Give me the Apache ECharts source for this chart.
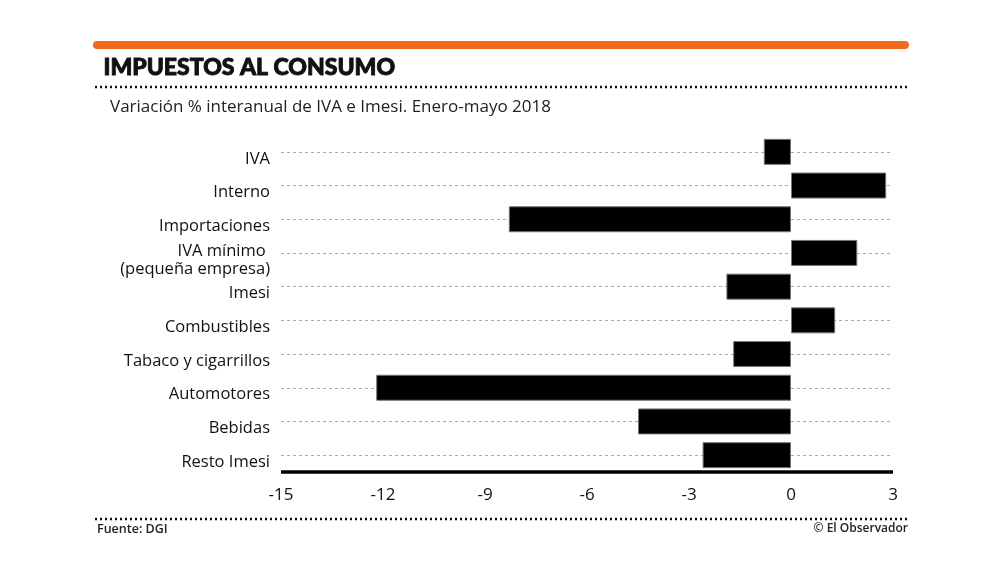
<!DOCTYPE html>
<html>
	<head>
		<meta charset="utf-8">
		<title>Impuestos al consumo</title>
		<style>
			html, body { margin: 0; padding: 0; background: #fff; }
			#chart { width: 1000px; height: 582px; }
		</style>
	</head>
	<body>
		<div id='chart'></div>
	</body>
	<script src='https://cdn.jsdelivr.net/npm/echarts@6/dist/echarts.min.js'></script>
	<script>

	// datos
	var categorias = ['IVA', 'Interno', 'Importaciones', 'IVA mínimo \n(pequeña empresa)', 'Imesi',
		'Combustibles', 'Tabaco y cigarrillos', 'Automotores', 'Bebidas', 'Resto Imesi'];
	var variacion = [-0.8, 2.8, -8.3, 1.95, -1.9, 1.3, -1.7, -12.2, -4.5, -2.6];
	var ticks = [-15, -12, -9, -6, -3, 0, 3];

	var fuente = 'Open Sans, DejaVu Sans, sans-serif';
	var xMin = ticks[0], xMax = ticks[ticks.length - 1];
	var ultima = categorias[categorias.length - 1];

	option = {
		animation: false,
		textStyle: { fontFamily: fuente },
		grid: {
			left: 281,
			right: 107,
			top: 135,
			bottom: 110
		},
		graphic: [
			{ type: 'line', shape: { x1: 97, y1: 45, x2: 905, y2: 45 },
				style: { stroke: '#f26a1b', lineWidth: 8, lineCap: 'round' } },
			{ type: 'text', left: 103, top: 56,
				style: { text: 'IMPUESTOS AL CONSUMO', font: '900 23px Lato, "Open Sans", sans-serif', fill: '#111',
					stroke: '#111', lineWidth: 0.9 } },
			{ type: 'line', shape: { x1: 95, y1: 87, x2: 908, y2: 87 },
				style: { stroke: '#111', lineWidth: 2.5, lineDash: [2, 3] } },
			{ type: 'text', left: 110, top: 99,
				style: { text: 'Variación % interanual de IVA e Imesi. Enero-mayo 2018', font: '17px "Open Sans", sans-serif', fill: '#222' } },
			{ type: 'line', shape: { x1: 95, y1: 519, x2: 908, y2: 519 },
				style: { stroke: '#111', lineWidth: 2.5, lineDash: [2, 3] } },
			{ type: 'text', left: 97, top: 523,
				style: { text: 'Fuente: DGI', font: '600 12.5px "Open Sans", sans-serif', fill: '#222' } },
			{ type: 'text', right: 92, top: 523,
				style: { text: '© El Observador', font: '600 12px "Open Sans", sans-serif', fill: '#222' } }
		],
		xAxis: {
			type: 'value',
			min: xMin,
			max: xMax,
			interval: 3,
			axisLine: { show: false },
			axisTick: { show: false },
			splitLine: { show: false },
			axisLabel: {
				margin: 15,
				fontSize: 17,
				color: '#111'
			}
		},
		yAxis: {
			type: 'category',
			inverse: true,
			data: categorias,
			axisLine: { show: false },
			axisTick: { show: false },
			splitLine: { show: false },
			axisLabel: {
				margin: 11,
				color: '#111',
				// una línea vacía arriba para bajar el texto respecto a la línea punteada
				formatter: function (v) {
					return '{s| }\n' + v.split('\n').map(function (t) { return '{a|' + t + '}'; }).join('\n');
				},
				rich: {
					s: { fontSize: 4, lineHeight: 14 },
					a: { fontSize: 16.5, lineHeight: 18, color: '#111', align: 'right' }
				}
			}
		},
		series: [
			{
				// lineas punteadas por categoría, detrás de las barras
				name: 'lineas',
				type: 'line',
				z: 1,
				data: [],
				markLine: {
					z: 1,
					silent: true,
					symbol: 'none',
					label: { show: false },
					lineStyle: { color: '#aaa', type: [3, 3], width: 1 },
					data: categorias.map(function (c) {
						return [{ coord: [xMin, c] }, { coord: [xMax, c] }];
					})
				}
			},
			{
				name: 'variación',
				type: 'bar',
				z: 3,
				barWidth: 26,
				itemStyle: {
					color: '#000',
					borderColor: '#777',
					borderWidth: 1
				},
				data: variacion,
				markLine: {
					silent: true,
					symbol: 'none',
					label: { show: false },
					lineStyle: { color: '#000', type: 'solid', width: 3.5 },
					data: [[{ coord: [xMin, ultima], y: 472 }, { coord: [xMax, ultima], y: 472 }]]
				}
			}
		]
	};

	var chart = echarts.init(document.getElementById('chart'));
	chart.setOption(option);

	window.onresize = function () {
		chart.resize();
	};
	</script>
</html>
